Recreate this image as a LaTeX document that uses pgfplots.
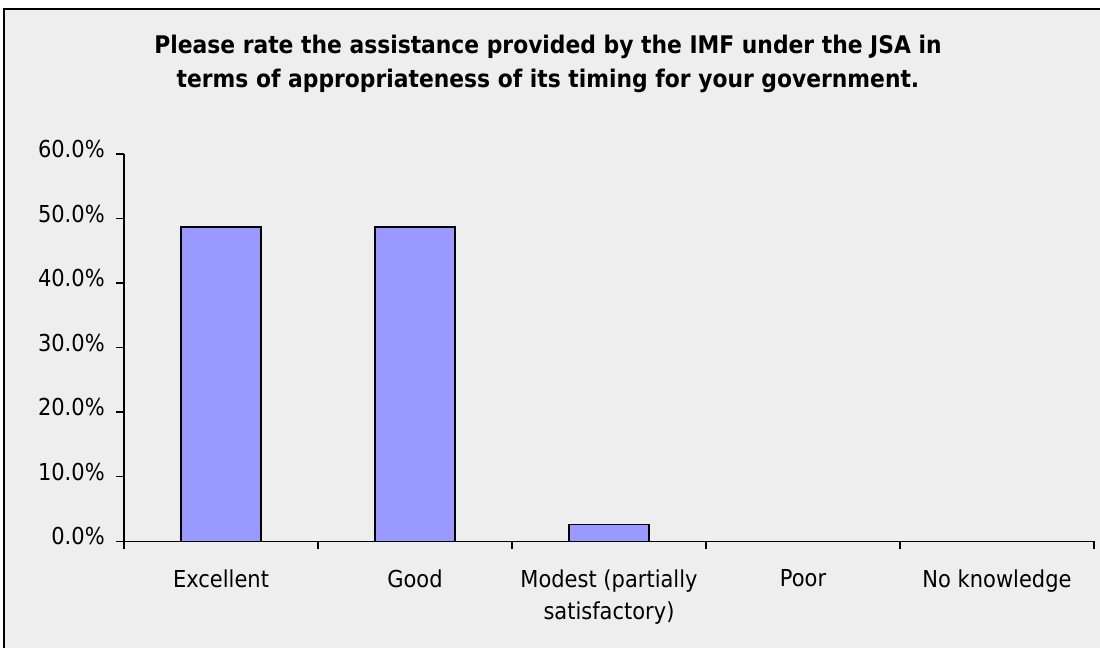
\documentclass[border=0pt]{standalone}
\usepackage{pgfplots}
\pgfplotsset{compat=1.18}
\usepackage{fontspec}
\setmainfont{DejaVu Sans}[FakeStretch=0.9]

\definecolor{panel}{HTML}{EEEEEE}
\definecolor{barfill}{HTML}{9999FF}

\begin{document}
\begin{tikzpicture}[x=0.75pt,y=-0.75pt]
\useasboundingbox (0,0) rectangle (1100,647);
\fill[white] (0,0) rectangle (1100,647);
\filldraw[fill=panel, draw=black, line width=1.5pt] (4,9) rectangle (1130,680);
\node[font=\bfseries\fontsize{18.2}{25.5}\selectfont, align=center] at (548,64)
  {Please rate the assistance provided by the IMF under the JSA in\\
   terms of appropriateness of its timing for your government.};
\begin{axis}[
  at={(93pt,-405.975pt)}, anchor=south west,
  scale only axis, width=727.5pt, height=290.5pt,
  xmin=-0.5, xmax=4.5, ymin=0, ymax=60,
  axis lines*=left,
  axis line style={line width=1.1pt, black},
  every tick/.style={black, line width=1.1pt},
  tick align=outside,
  major tick length=0pt, minor tick length=6pt,
  xtick={0,1,2,3,4},
  xticklabels={Excellent, Good, {Modest (partially\\satisfactory)}, Poor, No knowledge},
  minor xtick={-0.5,0.5,...,4.5},
  ytick={0,10,...,60},
  minor ytick={0,10,...,60},
  yticklabel={\pgfmathprintnumber[fixed,fixed zerofill,precision=1]{\tick}\%},
  /pgf/number format/assume math mode=true,
  xticklabel style={font=\fontsize{17.5}{24}\selectfont, align=center, anchor=north, inner sep=0pt, yshift=-21pt},
  yticklabel style={font=\fontsize{17.5}{20}\selectfont, anchor=mid east, inner sep=0pt, xshift=-14.25pt},
  ybar, bar width=60pt, bar shift=0pt,
]
\addplot[fill=barfill, draw=black, line width=1.1pt]
  coordinates {(0,48.7) (1,48.7) (2,2.6) (3,0) (4,0)};
\end{axis}
\end{tikzpicture}
\end{document}
